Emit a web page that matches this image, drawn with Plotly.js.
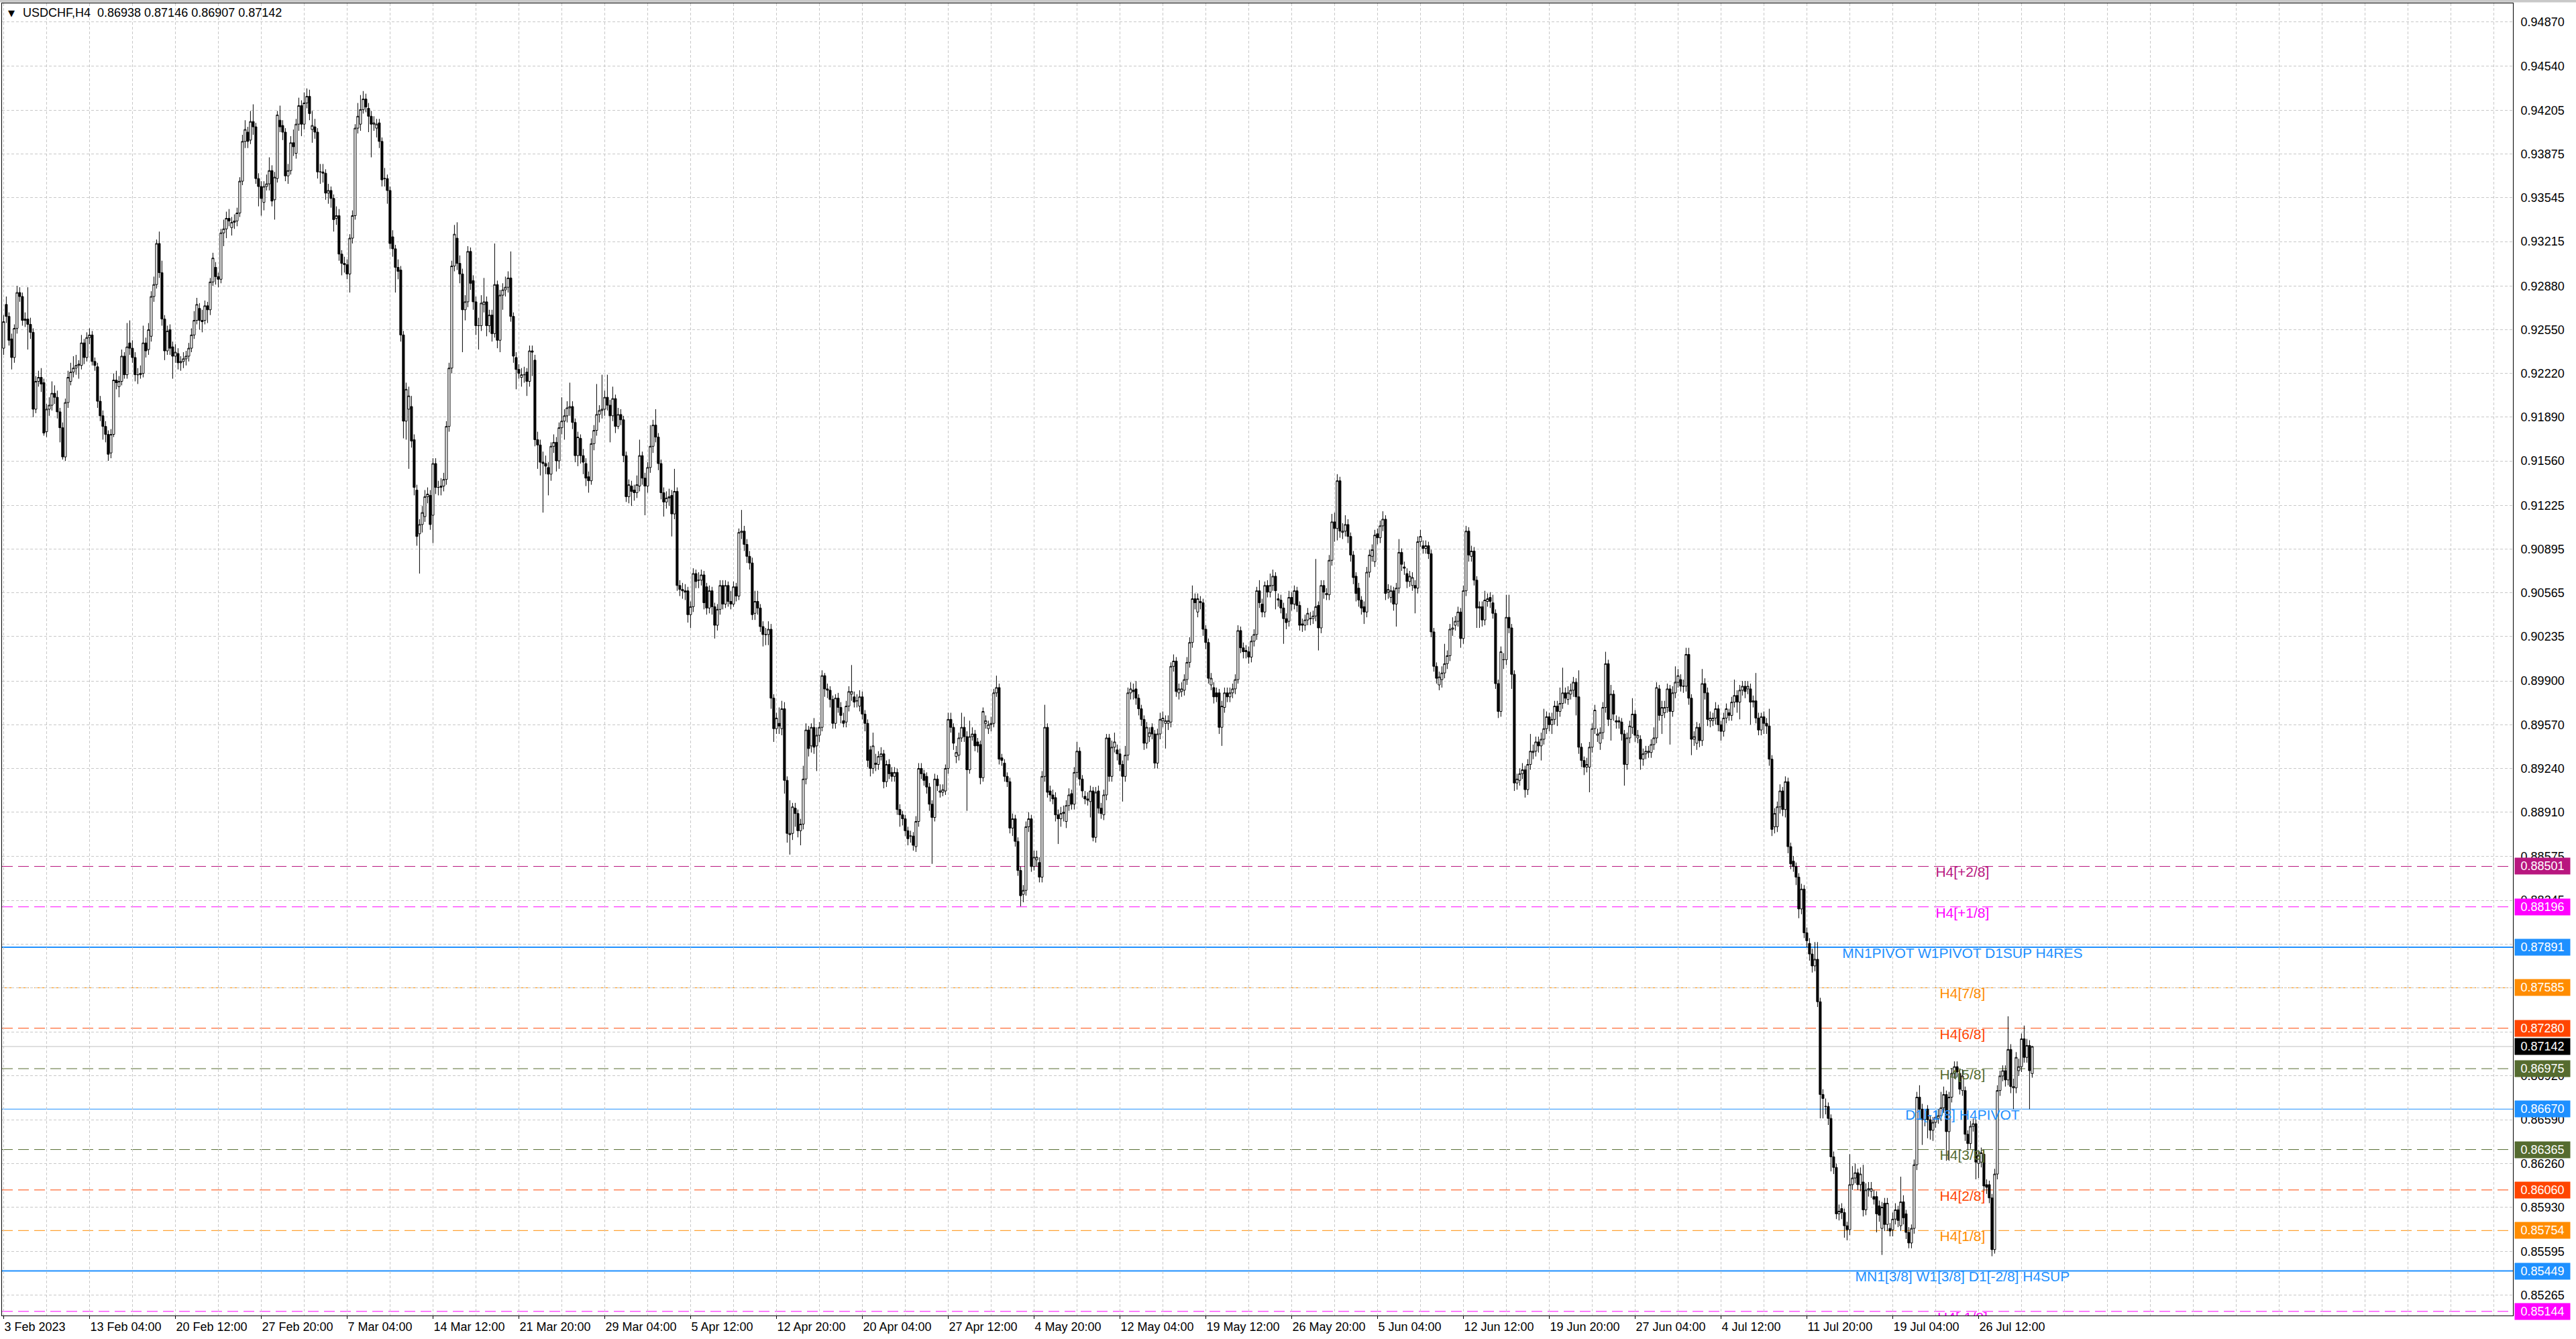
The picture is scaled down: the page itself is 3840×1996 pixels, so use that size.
<!DOCTYPE html>
<html><head><meta charset="utf-8">
<script src="https://cdn.plot.ly/plotly-3.0.1.min.js"></script>
<style>html,body{margin:0;padding:0;background:#fff;overflow:hidden}#chart{width:3840px;height:1996px}</style>
</head><body><div id="chart"></div>
<script>
const chartTitle = "USDCHF,H4\u00a0\u00a00.86938 0.87146 0.86907 0.87142";
// H4 bars, prices in pips (value / 10000)
const openPips = [
9241,9274,9265,9248,9234,9256,9283,9280,9263,9263,
9259,9253,9195,9216,9219,9215,9178,9195,9198,9207,
9204,9193,9181,9159,9200,9216,9223,9226,9228,9228,
9245,9234,9249,9251,9231,9227,9201,9190,9182,9176,
9162,9176,9217,9212,9216,9235,9221,9245,9241,9234,
9221,9221,9222,9245,9240,9250,9280,9289,9320,9298,
9263,9239,9255,9242,9235,9237,9230,9231,9233,9235,
9241,9251,9262,9271,9262,9262,9273,9270,9291,9302,
9295,9293,9328,9331,9339,9332,9336,9337,9343,9367,
9397,9404,9398,9412,9408,9369,9363,9351,9363,9365,
9375,9353,9369,9413,9409,9404,9371,9375,9396,9388,
9410,9424,9410,9426,9431,9406,9408,9404,9374,9374,
9373,9358,9360,9354,9339,9341,9312,9305,9304,9297,
9324,9341,9407,9410,9421,9429,9422,9416,9410,9407,
9411,9397,9369,9369,9360,9325,9316,9302,9300,9251,
9186,9195,9197,9172,9134,9101,9108,9114,9129,9130,
9115,9154,9136,9136,9137,9142,9182,9226,9303,9324,
9305,9297,9270,9276,9314,9292,9276,9258,9258,9274,
9276,9258,9266,9252,9289,9247,9281,9285,9287,9294,
9265,9234,9225,9219,9221,9223,9216,9239,9232,9172,
9168,9155,9154,9151,9146,9167,9170,9156,9181,9186,
9190,9196,9197,9185,9160,9173,9160,9154,9144,9141,
9169,9179,9191,9194,9195,9204,9198,9190,9203,9182,
9191,9187,9160,9129,9137,9134,9132,9137,9160,9143,
9137,9151,9167,9183,9174,9154,9132,9125,9128,9130,
9116,9133,9062,9059,9058,9058,9040,9046,9071,9066,
9066,9070,9061,9045,9058,9046,9032,9044,9062,9048,
9062,9050,9048,9061,9054,9102,9103,9093,9084,9079,
9041,9050,9045,9031,9025,9025,9029,8977,8954,8958,
8954,8969,8915,8874,8875,8894,8890,8877,8882,8916,
8953,8941,8955,8941,8949,8955,8994,8984,8983,8976,
8958,8977,8970,8960,8959,8971,8980,8978,8975,8971,
8978,8965,8958,8938,8924,8927,8927,8933,8935,8914,
8927,8921,8918,8921,8893,8889,8886,8877,8873,8873,
8865,8884,8924,8920,8918,8910,8897,8887,8916,8906,
8906,8907,8924,8961,8955,8933,8934,8947,8955,8948,
8923,8948,8950,8944,8942,8917,8958,8954,8957,8958,
8981,8985,8932,8928,8918,8914,8879,8886,8869,8847,
8829,8832,8880,8886,8850,8855,8853,8842,8918,8955,
8907,8904,8902,8889,8886,8890,8884,8896,8905,8897,
8921,8937,8916,8903,8901,8899,8907,8872,8907,8894,
8889,8904,8947,8918,8940,8938,8935,8927,8918,8934,
8981,8983,8984,8977,8969,8961,8943,8948,8955,8950,
8928,8950,8960,8958,8958,8959,9001,9005,8981,8982,
8983,8991,9004,9019,9052,9042,9050,9049,9029,9019,
8987,8985,8981,8981,8955,8970,8981,8978,8981,8984,
8991,9028,9015,9013,9012,9008,9020,9025,9058,9048,
9042,9062,9057,9062,9069,9052,9051,9045,9037,9035,
9053,9048,9058,9047,9033,9032,9036,9037,9037,9039,
9047,9030,9062,9055,9055,9081,9110,9105,9141,9102,
9103,9108,9099,9085,9069,9060,9051,9046,9042,9072,
9084,9080,9101,9098,9107,9112,9057,9053,9058,9048,
9060,9087,9076,9071,9065,9062,9062,9060,9095,9092,
9090,9092,9086,9027,9001,8987,8991,8996,9003,9009,
9029,9032,9035,9042,9022,9058,9103,9084,9088,9066,
9045,9046,9036,9050,9053,9049,9041,8988,8967,9006,
9006,9038,9030,8995,8913,8915,8920,8923,8908,8927,
8936,8937,8944,8941,8946,8954,8963,8957,8961,8971,
8967,8973,8981,8976,8980,8983,8989,8978,8940,8930,
8925,8925,8940,8954,8949,8943,8951,8970,9003,8961,
8980,8960,8960,8959,8950,8927,8947,8955,8965,8947,
8946,8931,8935,8936,8936,8942,8947,8984,8964,8966,
8970,8984,8967,8981,8989,8991,8986,8986,9010,8977,
8946,8943,8955,8945,8988,8981,8960,8960,8962,8969,
8957,8952,8962,8966,8964,8974,8979,8974,8983,8986,
8984,8984,8974,8975,8962,8953,8963,8958,8956,8931,
8880,8880,8895,8907,8893,8914,8865,8854,8850,8842,
8818,8833,8800,8792,8784,8775,8780,8748,8678,8669,
8669,8660,8631,8623,8588,8592,8589,8579,8576,8610,
8615,8619,8610,8612,8591,8606,8605,8601,8601,8594,
8577,8596,8580,8577,8576,8584,8591,8579,8597,8588,
8574,8566,8577,8625,8676,8667,8659,8667,8659,8651,
8657,8660,8662,8668,8678,8650,8676,8694,8699,8694,
8681,8681,8648,8641,8654,8656,8626,8627,8633,8610,
8610,8600,8561,8618,8681,8692,8696,8689,8712,8683,
8683,8696,8699,8720,8706,8715,8693.8];
const highPips = [
9266,9280,9268,9252,9259,9288,9287,9283,9268,9287,
9264,9256,9220,9224,9226,9218,9199,9204,9216,9213,
9209,9196,9185,9203,9224,9230,9235,9236,9232,9251,
9248,9253,9256,9254,9234,9230,9205,9194,9186,9179,
9180,9222,9224,9220,9240,9238,9260,9262,9247,9238,
9226,9228,9258,9249,9260,9284,9295,9323,9329,9307,
9266,9258,9259,9246,9244,9241,9235,9238,9239,9245,
9256,9269,9279,9275,9270,9277,9276,9294,9313,9306,
9298,9331,9338,9344,9346,9340,9342,9347,9370,9402,
9413,9408,9420,9425,9411,9373,9367,9367,9372,9385,
9379,9374,9420,9424,9413,9407,9380,9401,9406,9414,
9430,9428,9434,9437,9436,9420,9414,9407,9380,9380,
9376,9365,9363,9357,9348,9346,9315,9310,9308,9327,
9345,9410,9426,9432,9435,9433,9426,9420,9416,9414,
9414,9400,9377,9372,9363,9330,9319,9308,9303,9254,
9215,9212,9205,9176,9138,9112,9122,9134,9136,9134,
9158,9158,9141,9143,9147,9186,9230,9307,9334,9336,
9311,9301,9281,9318,9317,9296,9280,9264,9281,9294,
9280,9270,9270,9320,9292,9285,9290,9295,9299,9314,
9268,9238,9229,9226,9227,9226,9243,9243,9236,9178,
9172,9163,9160,9155,9170,9176,9174,9185,9204,9195,
9201,9215,9201,9188,9178,9176,9165,9158,9148,9173,
9183,9214,9198,9221,9209,9221,9202,9212,9206,9196,
9195,9190,9163,9142,9141,9138,9145,9172,9163,9147,
9155,9183,9187,9195,9177,9157,9136,9133,9135,9134,
9150,9136,9066,9064,9063,9061,9050,9075,9074,9072,
9074,9073,9064,9062,9061,9049,9048,9066,9066,9066,
9065,9058,9065,9064,9105,9119,9107,9097,9088,9083,
9058,9058,9048,9035,9030,9035,9033,8980,8966,8970,
8975,8974,8918,8900,8898,8898,8893,8886,8926,8958,
8956,8958,8962,8955,8959,8998,8996,8988,8986,8979,
8980,8981,8974,8966,8975,8986,9002,8982,8980,8983,
8982,8968,8961,8941,8951,8935,8937,8940,8938,8930,
8931,8925,8925,8924,8897,8892,8889,8880,8877,8876,
8888,8928,8928,8923,8921,8913,8900,8920,8919,8912,
8912,8927,8966,8966,8958,8941,8951,8966,8963,8952,
8960,8955,8953,8947,8945,8970,8964,8960,8963,8984,
8994,8988,8935,8931,8921,8917,8890,8889,8872,8850,
8836,8884,8891,8889,8862,8862,8857,8922,8972,8958,
8911,8908,8906,8893,8895,8896,8900,8909,8908,8925,
8944,8940,8919,8907,8906,8911,8910,8910,8911,8898,
8908,8950,8950,8945,8951,8942,8939,8930,8941,8985,
8989,8988,8990,8980,8972,8964,8959,8955,8958,8953,
8954,8966,8967,8964,8964,9004,9010,9008,8988,8989,
8995,9008,9023,9062,9056,9056,9054,9052,9032,9022,
8996,8989,8985,8984,8975,8985,8985,8985,8988,8995,
9032,9031,9019,9017,9016,9024,9029,9061,9066,9052,
9065,9066,9071,9074,9072,9056,9055,9049,9041,9058,
9057,9062,9061,9050,9037,9040,9045,9042,9043,9082,
9050,9066,9066,9060,9085,9116,9117,9146,9144,9109,
9115,9112,9102,9088,9072,9064,9054,9050,9076,9089,
9093,9104,9105,9111,9118,9115,9063,9062,9061,9064,
9097,9090,9080,9075,9073,9072,9066,9099,9104,9096,
9096,9095,9089,9030,9004,8997,9001,9018,9013,9033,
9038,9039,9046,9045,9062,9107,9106,9092,9091,9069,
9050,9050,9058,9056,9057,9055,9044,8991,9016,9011,
9055,9055,9033,8998,8920,8924,8928,8926,8931,8950,
8942,8948,8948,8951,8969,8967,8966,8966,8975,8975,
8985,9000,8985,8986,8988,8993,8992,8998,8943,8933,
8932,8944,8958,8972,8954,8955,8974,9012,9006,8987,
8983,8964,8963,8962,8953,8951,8960,8977,8968,8953,
8949,8939,8941,8941,8946,8955,8989,8987,8975,8975,
8988,8987,8986,9001,8999,8995,8991,9015,9015,8980,
8952,8959,8958,8999,8992,8985,8967,8966,8974,8972,
8960,8966,8973,8969,8978,8991,8983,8987,8990,8990,
8990,8988,8979,8996,8966,8966,8967,8962,8969,8934,
8894,8899,8912,8910,8918,8917,8868,8858,8853,8845,
8837,8836,8804,8796,8788,8793,8793,8751,8682,8675,
8672,8663,8635,8626,8595,8596,8592,8582,8633,8624,
8626,8622,8623,8625,8611,8612,8612,8606,8605,8598,
8597,8600,8600,8581,8589,8596,8594,8616,8602,8591,
8578,8580,8629,8680,8685,8671,8664,8670,8662,8661,
8666,8667,8680,8684,8681,8680,8698,8703,8703,8697,
8697,8684,8651,8658,8660,8659,8636,8638,8636,8614,
8613,8603,8622,8685,8696,8700,8700,8737,8716,8690,
8710,8705,8724,8730,8720,8719,8714.6];
const lowPips = [
9236,9260,9243,9225,9230,9252,9276,9258,9257,9240,
9248,9189,9192,9212,9208,9175,9174,9190,9194,9199,
9188,9170,9157,9156,9196,9213,9219,9221,9218,9225,
9229,9231,9244,9228,9224,9196,9186,9172,9170,9156,
9158,9174,9210,9204,9213,9218,9218,9236,9230,9216,
9214,9218,9219,9234,9236,9246,9276,9286,9294,9258,
9232,9236,9236,9218,9230,9225,9224,9226,9228,9231,
9238,9248,9259,9255,9253,9259,9260,9266,9288,9289,
9287,9290,9318,9324,9333,9326,9331,9333,9340,9364,
9392,9392,9395,9402,9365,9348,9341,9345,9360,9360,
9348,9338,9366,9404,9398,9367,9365,9372,9386,9384,
9405,9401,9406,9422,9413,9396,9399,9369,9365,9366,
9353,9350,9347,9329,9334,9307,9296,9298,9293,9283,
9320,9338,9403,9405,9418,9419,9404,9385,9405,9400,
9392,9363,9363,9350,9316,9310,9283,9293,9246,9173,
9172,9150,9166,9130,9092,9071,9102,9110,9124,9104,
9094,9131,9130,9130,9133,9138,9178,9222,9299,9300,
9290,9238,9262,9272,9285,9270,9251,9240,9254,9268,
9250,9253,9246,9249,9241,9238,9270,9280,9283,9261,
9230,9210,9218,9212,9215,9205,9212,9220,9167,9150,
9145,9117,9146,9130,9141,9162,9148,9150,9176,9172,
9185,9190,9180,9155,9152,9154,9146,9137,9132,9138,
9164,9175,9185,9188,9190,9194,9170,9186,9177,9180,
9183,9155,9125,9124,9122,9126,9128,9133,9138,9115,
9132,9147,9162,9170,9149,9127,9114,9120,9122,9099,
9112,9058,9054,9052,9051,9034,9030,9042,9060,9060,
9062,9044,9040,9041,9040,9022,9028,9040,9044,9045,
9046,9044,9046,9050,9051,9097,9088,9079,9074,9036,
9036,9040,9027,9016,9017,9017,8969,8944,8950,8950,
8949,8905,8868,8859,8870,8880,8872,8866,8878,8912,
8933,8936,8935,8922,8944,8952,8978,8977,8970,8954,
8954,8966,8958,8955,8955,8967,8975,8970,8970,8967,
8961,8952,8925,8918,8920,8922,8923,8930,8909,8910,
8916,8914,8914,8889,8880,8881,8873,8866,8868,8862,
8861,8880,8916,8911,8905,8892,8852,8884,8907,8902,
8903,8904,8920,8951,8938,8928,8930,8944,8944,8892,
8920,8945,8937,8936,8912,8914,8954,8950,8952,8955,
8978,8927,8926,8914,8910,8875,8873,8865,8843,8820,
8823,8828,8876,8846,8847,8850,8838,8838,8914,8902,
8899,8897,8884,8867,8880,8884,8879,8892,8893,8893,
8917,8911,8902,8897,8896,8887,8869,8868,8890,8886,
8885,8900,8914,8914,8936,8930,8922,8899,8914,8930,
8976,8976,8972,8964,8956,8938,8939,8944,8946,8924,
8924,8946,8955,8939,8953,8955,8997,8978,8976,8978,
8979,8987,9000,9015,9044,9038,9044,9024,9014,8988,
8983,8973,8974,8950,8941,8966,8974,8974,8977,8980,
8988,9011,9007,9007,9003,9004,9016,9021,9045,9038,
9038,9053,9053,9058,9044,9046,9041,9018,9029,9031,
9043,9044,9042,9028,9027,9028,9032,9032,9033,9035,
9013,9026,9052,9051,9051,9077,9095,9096,9098,9097,
9099,9094,9080,9063,9050,9046,9040,9033,9038,9068,
9080,9076,9093,9094,9103,9051,9052,9049,9043,9031,
9056,9073,9070,9060,9061,9058,9041,9056,9091,9086,
9086,9082,9023,8997,8988,8983,8985,8992,8999,9005,
9024,9028,9031,9015,9018,9054,9080,9080,9062,9030,
9030,9031,9032,9046,9045,9037,8984,8962,8963,8999,
9002,9026,8984,8907,8908,8911,8916,8902,8904,8923,
8931,8933,8936,8930,8942,8950,8952,8950,8957,8956,
8963,8969,8973,8972,8976,8978,8964,8935,8925,8919,
8921,8906,8936,8950,8944,8938,8946,8966,8956,8945,
8960,8954,8954,8945,8911,8923,8943,8950,8944,8943,
8923,8926,8931,8932,8932,8938,8943,8960,8950,8962,
8966,8942,8963,8977,8985,8982,8981,8982,8972,8934,
8941,8938,8940,8941,8976,8956,8955,8956,8957,8952,
8945,8948,8958,8960,8960,8970,8966,8961,8979,8977,
8980,8957,8970,8958,8949,8949,8950,8950,8926,8873,
8875,8876,8890,8888,8887,8860,8848,8846,8836,8811,
8814,8796,8789,8779,8770,8771,8744,8660,8660,8663,
8655,8620,8618,8584,8583,8584,8570,8568,8572,8606,
8611,8606,8605,8586,8587,8601,8600,8595,8574,8582,
8557,8575,8575,8571,8571,8580,8578,8575,8580,8569,
8562,8562,8573,8621,8662,8640,8654,8645,8644,8643,
8653,8656,8658,8664,8628,8628,8672,8690,8691,8678,
8677,8643,8636,8637,8650,8614,8615,8623,8604,8603,
8596,8556,8558,8614,8677,8688,8684,8685,8679,8667,
8679,8692,8695,8702,8702,8667,8690.7];
const closePips = [
9261,9265,9247,9234,9256,9283,9280,9262,9262,9259,
9253,9195,9216,9219,9214,9177,9195,9198,9207,9204,
9193,9181,9159,9200,9219,9223,9226,9228,9229,9245,
9234,9249,9251,9231,9228,9201,9190,9182,9176,9161,
9176,9217,9215,9216,9235,9221,9242,9241,9234,9221,
9221,9222,9245,9239,9255,9280,9289,9320,9298,9263,
9239,9254,9241,9235,9238,9230,9231,9233,9235,9241,
9251,9262,9274,9262,9261,9273,9270,9291,9309,9295,
9293,9328,9331,9339,9337,9336,9337,9343,9367,9397,
9406,9397,9412,9408,9369,9363,9354,9363,9365,9375,
9352,9370,9417,9408,9404,9371,9375,9396,9393,9410,
9424,9410,9426,9431,9418,9409,9404,9374,9374,9373,
9358,9360,9354,9338,9341,9312,9305,9304,9297,9324,
9341,9407,9416,9421,9429,9423,9416,9410,9411,9410,
9397,9368,9369,9360,9320,9316,9302,9299,9251,9186,
9210,9205,9171,9136,9099,9108,9117,9129,9131,9108,
9154,9136,9136,9137,9142,9182,9226,9303,9327,9305,
9297,9270,9276,9314,9290,9276,9258,9258,9275,9276,
9258,9266,9252,9289,9247,9281,9285,9287,9294,9265,
9235,9225,9222,9221,9221,9216,9239,9238,9172,9168,
9155,9154,9152,9146,9167,9170,9156,9181,9186,9190,
9196,9197,9185,9160,9174,9160,9155,9143,9141,9169,
9179,9191,9194,9195,9204,9198,9190,9203,9182,9191,
9187,9160,9129,9138,9133,9132,9138,9160,9143,9137,
9151,9167,9183,9174,9154,9132,9125,9128,9129,9116,
9133,9062,9059,9058,9057,9040,9046,9071,9065,9066,
9070,9049,9045,9058,9046,9032,9044,9062,9048,9062,
9050,9048,9061,9054,9102,9103,9093,9084,9079,9040,
9050,9045,9031,9025,9025,9029,8977,8954,8962,8956,
8969,8915,8875,8875,8895,8890,8877,8882,8916,8953,
8939,8955,8940,8949,8955,8994,8984,8983,8976,8958,
8977,8970,8964,8958,8971,8982,8982,8974,8975,8978,
8965,8958,8930,8924,8941,8928,8933,8935,8914,8927,
8920,8918,8921,8893,8889,8886,8877,8871,8873,8866,
8884,8924,8920,8915,8910,8897,8887,8916,8911,8907,
8908,8924,8961,8955,8943,8936,8947,8955,8948,8923,
8948,8950,8941,8941,8917,8967,8960,8957,8958,8981,
8985,8931,8930,8918,8914,8879,8886,8869,8847,8828,
8832,8880,8886,8850,8857,8857,8842,8918,8955,8906,
8904,8901,8889,8886,8890,8891,8896,8904,8897,8921,
8937,8916,8907,8901,8900,8907,8872,8906,8894,8890,
8904,8947,8918,8940,8944,8935,8927,8918,8934,8981,
8984,8982,8977,8969,8961,8943,8955,8951,8950,8928,
8950,8961,8962,8960,8960,9001,9005,8982,8984,8984,
8991,9004,9019,9052,9049,9052,9049,9029,9019,8992,
8992,8978,8978,8955,8971,8981,8978,8981,8984,8991,
9028,9015,9012,9012,9008,9020,9025,9058,9049,9042,
9062,9057,9062,9069,9058,9051,9045,9037,9034,9053,
9048,9058,9047,9032,9032,9036,9041,9037,9039,9046,
9030,9062,9057,9056,9081,9110,9105,9141,9103,9103,
9108,9099,9085,9068,9056,9051,9045,9042,9072,9085,
9089,9100,9098,9107,9112,9056,9059,9058,9048,9060,
9087,9078,9075,9065,9069,9068,9060,9095,9099,9090,
9092,9086,9027,9001,8992,8993,8996,9003,9009,9029,
9030,9035,9042,9022,9058,9103,9085,9088,9066,9045,
9046,9036,9051,9052,9050,9041,8988,8967,9012,9006,
9038,9030,8995,8913,8916,8920,8923,8908,8927,8937,
8937,8944,8941,8946,8954,8963,8957,8961,8971,8967,
8973,8981,8977,8981,8983,8989,8978,8940,8930,8925,
8927,8940,8954,8968,8950,8951,8970,9003,8961,8980,
8965,8959,8959,8950,8927,8947,8956,8965,8949,8949,
8931,8935,8937,8937,8942,8947,8985,8964,8970,8970,
8984,8967,8981,8989,8994,8986,8986,9010,8977,8946,
8948,8955,8945,8988,8981,8961,8962,8962,8969,8957,
8952,8962,8969,8964,8974,8979,8974,8983,8986,8982,
8986,8974,8975,8962,8953,8963,8958,8956,8931,8878,
8890,8895,8907,8893,8914,8865,8852,8850,8842,8818,
8833,8800,8794,8784,8775,8780,8748,8678,8675,8669,
8660,8631,8623,8588,8590,8589,8579,8576,8610,8615,
8619,8610,8618,8591,8606,8607,8607,8599,8588,8587,
8593,8580,8596,8575,8584,8591,8583,8597,8585,8574,
8566,8577,8625,8676,8667,8659,8659,8659,8651,8657,
8661,8662,8668,8678,8650,8676,8694,8699,8695,8682,
8692,8648,8641,8654,8656,8627,8632,8634,8609,8608,
8600,8561,8618,8681,8692,8696,8689,8712,8684,8684,
8706,8699,8720,8706,8715,8696,8714.2];

// time labels: one every 32 H4 bars, starting at the first bar
const timeLabels = ["3 Feb 2023","13 Feb 04:00","20 Feb 12:00","27 Feb 20:00","7 Mar 04:00","14 Mar 12:00",
 "21 Mar 20:00","29 Mar 04:00","5 Apr 12:00","12 Apr 20:00","20 Apr 04:00","27 Apr 12:00","4 May 20:00",
 "12 May 04:00","19 May 12:00","26 May 20:00","5 Jun 04:00","12 Jun 12:00","19 Jun 20:00","27 Jun 04:00",
 "4 Jul 12:00","11 Jul 20:00","19 Jul 04:00","26 Jul 12:00"];
const barsPerTimeLabel = 32;
const barsPerGridStep = 16;

const priceTicks = [0.94870,0.94540,0.94205,0.93875,0.93545,0.93215,0.92880,0.92550,0.92220,0.91890,
 0.91560,0.91225,0.90895,0.90565,0.90235,0.89900,0.89570,0.89240,0.88910,0.88575,0.88245,0.87915,
 0.87585,0.87250,0.86920,0.86590,0.86260,0.85930,0.85595,0.85265];

const levelPrices = [0.88501,0.88196,0.87891,0.87585,0.87280,0.86975,0.86670,0.86365,0.86060,0.85754,0.85449,0.85144];
const levelNames = ["H4[+2/8]","H4[+1/8]","MN1PIVOT W1PIVOT D1SUP H4RES","H4[7/8]","H4[6/8]","H4[5/8]",
 "D1[-1/8] H4PIVOT","H4[3/8]","H4[2/8]","H4[1/8]","MN1[3/8] W1[3/8] D1[-2/8] H4SUP","H4[-1/8]"];
const levelColors = ["#B8177F","#FF00FF","#1E90FF","#FF8C00","#FF4500","#556B2F","#1E90FF","#556B2F","#FF4500","#FF8C00","#1E90FF","#FF00FF"];
const levelDash = ["16px,8px","16px,8px","solid","16px,8px","16px,8px","16px,8px","solid","16px,8px","16px,8px","16px,8px","solid","16px,8px"];
const levelWidth = [1,1,2,1,1,1,1,1,1,1,2,1];
const levelLabelBar = 730;
const bidPrice = 0.87142;

const n = Math.min(openPips.length, highPips.length, lowPips.length, closePips.length);
const toPrice = v => v / 10000;
const barIndex = Array.from({length: n}, (_, i) => i);
const FONT = "Liberation Sans, Arial, sans-serif";

const candles = {
  type: "candlestick", x: barIndex,
  open: openPips.slice(0, n).map(toPrice), high: highPips.slice(0, n).map(toPrice),
  low: lowPips.slice(0, n).map(toPrice), close: closePips.slice(0, n).map(toPrice),
  increasing: {line: {color: "#000", width: 1}, fillcolor: "#fff"},
  decreasing: {line: {color: "#000", width: 1}, fillcolor: "#000"},
  whiskerwidth: 0, hoverinfo: "skip", showlegend: false
};
const levelText = {
  type: "scatter", mode: "text",
  x: levelPrices.map(() => levelLabelBar), y: levelPrices, text: levelNames,
  textposition: "bottom center",
  textfont: {family: FONT, size: 21, color: levelColors},
  cliponaxis: true, hoverinfo: "skip", showlegend: false
};

const shapes = levelPrices.map((p, k) => ({
  type: "line", xref: "paper", x0: 0, x1: 1, yref: "y", y0: p, y1: p, layer: "between",
  line: {color: levelColors[k], width: levelWidth[k], dash: levelDash[k]}
}));
shapes.push({type: "line", xref: "paper", x0: 0, x1: 1, yref: "y", y0: bidPrice, y1: bidPrice, layer: "between",
  line: {color: "#C0C0C0", width: 1}});
shapes.push({type: "rect", xref: "paper", yref: "paper", x0: -0.002, x1: 1.03, y0: 1.0008, y1: 1.003,
  fillcolor: "#C8C8C8", line: {width: 0}});

const annotations = levelPrices.map((p, k) => ({
  xref: "paper", x: 1, xanchor: "left", xshift: 2, yref: "y", y: p, yanchor: "middle",
  text: p.toFixed(5), showarrow: false, bgcolor: levelColors[k], width: 80, height: 22, align: "center",
  font: {family: FONT, size: 18, color: "#fff"}
}));
annotations.push({xref: "paper", x: 1, xanchor: "left", xshift: 2, yref: "y", y: bidPrice, yanchor: "middle",
  text: bidPrice.toFixed(5), showarrow: false, bgcolor: "#000", width: 80, height: 22, align: "center",
  font: {family: FONT, size: 18, color: "#fff"}});
annotations.push({xref: "paper", x: 0, xanchor: "left", xshift: 7, yref: "paper", y: 1, yanchor: "middle", yshift: -14,
  text: "\u25BC", showarrow: false, font: {family: "DejaVu Sans", size: 13, color: "#000"}});
annotations.push({xref: "paper", x: 0, xanchor: "left", xshift: 29, yref: "paper", y: 1, yanchor: "middle", yshift: -14,
  text: chartTitle, showarrow: false, font: {family: FONT, size: 18, color: "#000"}});

const gridStyle = {gridcolor: "#C8C8C8", gridwidth: 1, griddash: "4px,3px"};
const layout = {
  width: 3840, height: 1996,
  margin: {l: 3, r: 94, t: 5, b: 35, pad: 0},
  paper_bgcolor: "#fff", plot_bgcolor: "#fff",
  showlegend: false, boxgap: 0.15, boxgroupgap: 0.1,
  xaxis: Object.assign({
    range: [-0.6, 935.15], fixedrange: true, rangeslider: {visible: false},
    tickmode: "array", tickvals: timeLabels.map((_, k) => k * barsPerTimeLabel), ticktext: timeLabels,
    ticks: "outside", ticklen: 4, tickcolor: "#000", tickwidth: 1,
    ticklabelposition: "outside right",
    tickfont: {family: FONT, size: 18, color: "#000"},
    showgrid: true, zeroline: false, showline: true, mirror: true, linecolor: "#000", linewidth: 1,
    minor: Object.assign({tickmode: "linear", tick0: 0, dtick: barsPerGridStep, showgrid: true, ticks: ""}, gridStyle)
  }, gridStyle),
  yaxis: Object.assign({
    side: "right", range: [0.851128, 0.950116], fixedrange: true,
    tickmode: "array", tickvals: priceTicks, ticktext: priceTicks.map(v => v.toFixed(5)),
    ticks: "", ticklabelstandoff: 7,
    tickfont: {family: FONT, size: 18, color: "#000"},
    showgrid: true, zeroline: false, showline: true, mirror: true, linecolor: "#000", linewidth: 1
  }, gridStyle),
  shapes: shapes, annotations: annotations
};
Plotly.newPlot("chart", [levelText, candles], layout, {staticPlot: true, displayModeBar: false});
</script></body></html>
